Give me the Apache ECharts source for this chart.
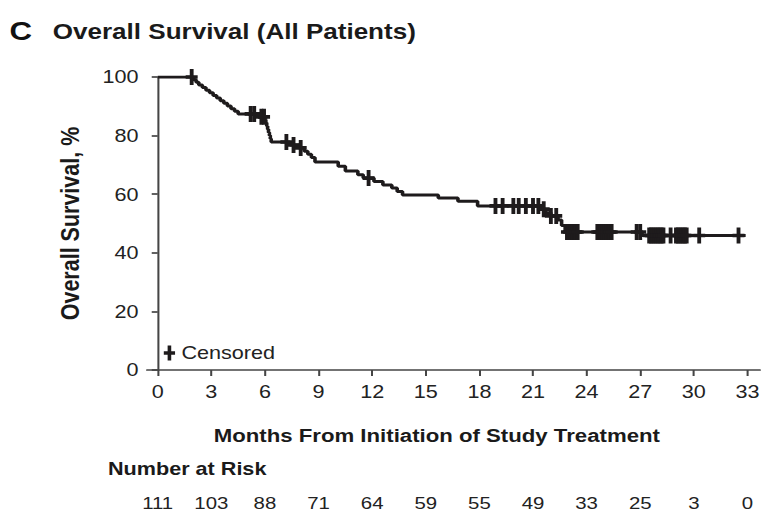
<!DOCTYPE html>
<html>
<head>
<meta charset="utf-8">
<script src="https://cdn.jsdelivr.net/npm/echarts@6/dist/echarts.min.js"></script>
<style>
  html, body { margin: 0; padding: 0; background: #fff; overflow: hidden; }
  #wrap { width: 763px; height: 513px; overflow: hidden; }
  /* the figure is set in a wide, horizontally stretched type */
  #chart { width: 636px; height: 513px; transform: scaleX(1.2); transform-origin: 0 0; }
</style>
</head>
<body>
<div id="wrap"><div id="chart"></div></div>
<script>
// Kaplan-Meier estimate: months of each death and overall survival (%) just after it
const eventMonths = [
  2.0, 2.15, 2.3, 2.5, 2.7, 2.9, 3.1, 3.3, 3.5, 3.7, 3.9, 4.1, 4.3, 4.5,
  5.6, 6.0, 6.05, 6.1, 6.15, 6.2, 6.25, 6.3, 6.35,
  7.4, 7.9, 8.2, 8.4, 8.6, 8.8,
  10.1, 10.5, 11.2, 11.5, 12.1, 12.6, 13.1, 13.4, 13.7,
  15.7, 16.8, 17.9,
  21.4, 21.7, 22.0, 22.4, 22.6, 22.8,
  27.1
];
const eventSurvival = [
  99.1, 98.2, 97.3, 96.4, 95.5, 94.6, 93.7, 92.8, 91.9, 91.0, 90.1, 89.2, 88.3, 87.4,
  86.4, 85.4, 84.4, 83.3, 82.2, 81.1, 80.0, 78.9, 77.8,
  76.8, 75.8, 74.7, 73.6, 72.5, 71.0,
  69.5, 67.9, 66.6, 65.5, 64.3, 63.1, 62.1, 60.9, 59.7,
  58.7, 57.6, 56.0,
  54.9, 53.7, 52.6, 51.2, 49.3, 47.1,
  45.9
];
// months at which patients were censored
const censorMonths = [
  1.9, 5.2, 5.4, 5.8, 5.95, 7.2, 7.6, 8.0, 11.8,
  18.9, 19.3, 19.9, 20.2, 20.6, 21.0, 21.3, 21.6, 22.0, 22.3,
  22.9, 23.0, 23.1, 23.2, 23.3, 23.4, 23.5,
  24.6, 24.7, 24.8, 24.9, 25.0, 25.1, 25.2, 25.3, 25.4,
  26.8, 27.0,
  27.5, 27.6, 27.7, 27.8, 27.9, 28.0, 28.1, 28.2, 28.3,
  28.7,
  29.0, 29.1, 29.2, 29.3, 29.4, 29.5, 29.6,
  30.3, 32.5
];
const followUpEnd = 32.9;

const tickMonths = [0, 3, 6, 9, 12, 15, 18, 21, 24, 27, 30, 33];
const atRisk = [111, 103, 88, 71, 64, 59, 55, 49, 33, 25, 3, 0];

const FONT = '"Liberation Sans", Arial, Helvetica, sans-serif';
const INK = '#1e1b1c';
const AXIS = '#454545';
const PLUS = 'path://M3.4,0h3.2v6.2h3.4v3.6h-3.4v6.2h-3.2v-6.2h-3.4v-3.6h3.4z';

function survivalAt(t) {
  let s = 100;
  for (let i = 0; i < eventMonths.length; i++) {
    if (eventMonths[i] <= t) s = eventSurvival[i];
  }
  return s;
}

// step curve: hold the previous level until each death, then drop
const curve = [[0, 100]];
let level = 100;
eventMonths.forEach((t, i) => {
  curve.push([t, level]);
  level = eventSurvival[i];
  curve.push([t, level]);
});
curve.push([followUpEnd, level]);

const censored = censorMonths.map(t => [t, survivalAt(t)]);

const chart = echarts.init(document.getElementById('chart'), null, { renderer: 'svg' });
chart.setOption({
  animation: false,
  backgroundColor: '#fff',
  textStyle: { fontFamily: FONT },
  grid: { left: 122.5, right: 2.7, top: 77, bottom: 143, containLabel: false },
  legend: {
    left: 131.5, top: 339,
    selectedMode: false,
    itemWidth: 10, itemHeight: 15,
    data: [{ name: 'Censored', icon: PLUS, itemStyle: { color: INK, opacity: 1 } }],
    textStyle: { fontSize: 18, color: '#222', fontFamily: FONT, padding: [0, 0, 0, 0] }
  },
  xAxis: [
    {
      type: 'value', min: -0.6, max: 33.7,
      splitLine: { show: false },
      axisLine: { show: true, onZero: false, lineStyle: { color: AXIS, width: 1.7 } },
      axisTick: { show: true, length: 6, customValues: tickMonths, lineStyle: { color: AXIS, width: 1.7 } },
      axisLabel: { customValues: tickMonths, fontSize: 18, color: '#222', margin: 13, fontFamily: FONT }
    },
    {
      type: 'value', min: -0.6, max: 33.7, position: 'bottom', offset: 117,
      splitLine: { show: false },
      axisLine: { show: false },
      axisTick: { show: false },
      axisLabel: {
        customValues: tickMonths, fontSize: 17, color: '#222', margin: 8, fontFamily: FONT,
        formatter: v => String(atRisk[tickMonths.indexOf(Math.round(v))])
      }
    }
  ],
  yAxis: {
    type: 'value', min: 0, max: 100, interval: 20,
    splitLine: { show: false },
    axisLine: { show: true, lineStyle: { color: AXIS, width: 1.7 } },
    axisTick: { show: true, length: 5, lineStyle: { color: AXIS, width: 1.7 } },
    axisLabel: { fontSize: 18, color: '#222', margin: 7, fontFamily: FONT },
    name: 'Overall Survival, %',
    nameLocation: 'middle', nameGap: 53,
    nameTextStyle: { fontSize: 21.5, fontWeight: 'bold', color: '#1a1a1a', fontFamily: FONT }
  },
  series: [
    {
      name: 'Overall survival',
      type: 'line',
      data: curve,
      showSymbol: false,
      lineStyle: { color: INK, width: 3 },
      z: 3
    },
    {
      name: 'Censored',
      type: 'scatter',
      data: censored,
      symbol: PLUS,
      symbolSize: [10, 16],
      itemStyle: { color: INK, opacity: 1 },
      z: 4
    }
  ],
  graphic: [
    { type: 'text', left: 8, top: 18,
      style: { text: 'C', font: 'bold 26px ' + FONT, fill: '#111' } },
    { type: 'text', left: 44, top: 20,
      style: { text: 'Overall Survival (All Patients)', font: 'bold 21.7px ' + FONT, fill: '#1a1a1a' } },
    { type: 'text', x: 364, y: 436,
      style: { text: 'Months From Initiation of Study Treatment', font: 'bold 18.5px ' + FONT,
               fill: '#1a1a1a', align: 'center', verticalAlign: 'middle' } },
    { type: 'text', x: 90, y: 469,
      style: { text: 'Number at Risk', font: 'bold 18px ' + FONT,
               fill: '#1a1a1a', align: 'left', verticalAlign: 'middle' } }
  ]
});
</script>
</body>
</html>
